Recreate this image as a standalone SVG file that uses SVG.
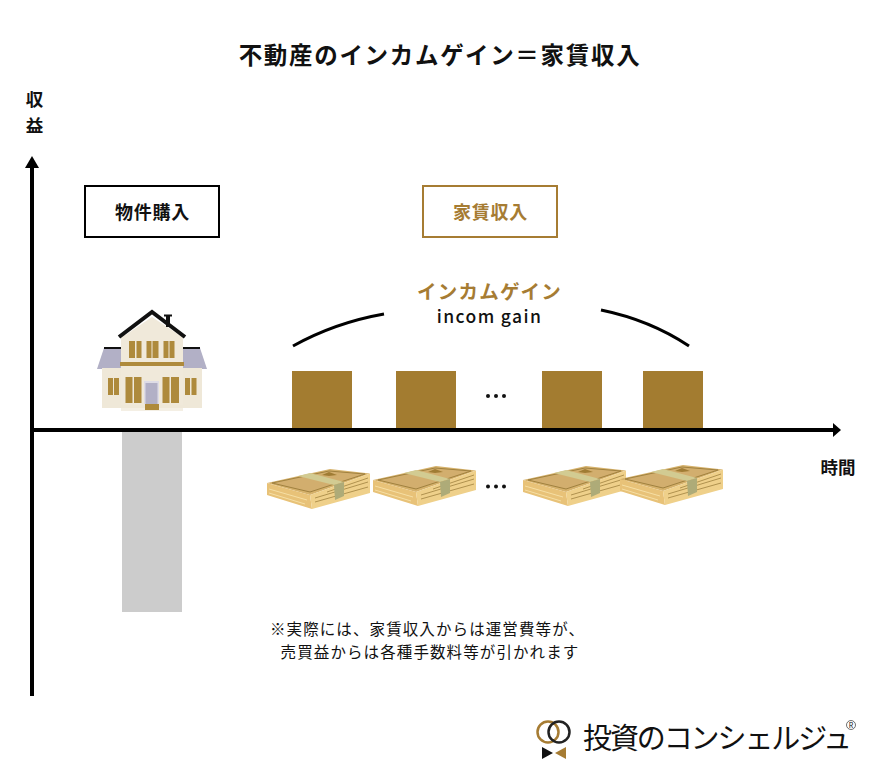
<svg xmlns="http://www.w3.org/2000/svg" xmlns:xlink="http://www.w3.org/1999/xlink" width="880" height="784" viewBox="0 0 880 784">
<style>
text{font-family:"Noto Sans CJK JP","Noto Sans",sans-serif;text-anchor:middle;fill:#111}
.b{font-weight:700}
.m{font-weight:500}
.gold{fill:#a67c33}
.box{fill:#fff;stroke-width:2}
.bar{fill:#a37c30}
.win{fill:#ae8a3c}
.axis{stroke:#000;stroke-width:4;fill:none}
.arc{stroke:#000;stroke-width:3;fill:none}
</style>
<defs>
<g id="money">
<polygon points="0,14 63,0 103,4.500 43,26" fill="#d6b26c"/>
<polygon points="0,14 43,26 45,40 0,26" fill="#e8c278"/>
<polygon points="43,26 103,4.500 103,24 45,40" fill="#efd08a"/>
<polygon points="5,14 62,2 98,5 43,23" fill="#d2ae6e" stroke="#a0813f" stroke-width="1"/>
<path d="M2,20 L40,31 M2,24 L38,35" stroke="#f6dfa4" stroke-width="1" fill="none"/>
<path d="M48,33 L101,18 M48,29 L101,13 M60,23 L101,9" stroke="#a0813f" stroke-width="0.800" fill="none"/>
<polygon points="55,6 62,3 70,6 62,7" fill="#a07c34"/>
<polygon points="31,7 43,4 77,13 67,16" fill="#d2cb92"/>
<polygon points="67,16 77,13 77,27 68,31" fill="#aeab78"/>
</g>
</defs>
<rect width="880" height="784" fill="#fff"/>
<text id="title" class="b" x="440" y="64" font-size="23.500" letter-spacing="1.700">不動産のインカムゲイン＝家賃収入</text>
<g id="connectors">
<path class="axis" d="M32,166V696"/>
<polygon points="32,156 25,168 39,168" fill="#000"/>
<path class="axis" d="M32,430H834"/>
<polygon points="841,430 833,423 833,437" fill="#000"/>
<path class="arc" d="M293,346C320,331 350,320 384,314"/>
<path class="arc" d="M601,310C635,317 665,330 689,346"/>
</g>
<g id="label-y" class="b"><text x="34.500" y="105.500" font-size="17.500">収</text><text x="34.500" y="131.500" font-size="17.500">益</text></g>
<text id="label-x" class="b" x="838" y="473.500" font-size="17.500">時間</text>
<g id="node-buy"><rect class="box" x="85" y="186" width="134" height="51" stroke="#000"/><text class="b" x="152.500" y="219" font-size="18" letter-spacing="0.700">物件購入</text></g>
<g id="node-rent"><rect class="box" x="423" y="186" width="134" height="51" stroke="#a67c33"/><text class="b gold" x="490.500" y="219" font-size="18" letter-spacing="0.700">家賃収入</text></g>
<g id="node-income">
<text class="b gold" x="489.500" y="298.500" font-size="19.500" letter-spacing="1.300">インカムゲイン</text>
<text class="m" x="489.500" y="323" font-size="17.500" letter-spacing="1.400">incom gain</text>
</g>
<g id="house">
<polygon points="104,348 121,348 121,369 97,369" fill="#b2b0c6"/>
<polygon points="183,348 200,348 207,369 183,369" fill="#b2b0c6"/>
<path d="M104,348H121M183,348H200" stroke="#111" stroke-width="2"/>
<rect x="102" y="368" width="100" height="40" fill="#efe8d8"/>
<rect x="121" y="335" width="62" height="70" fill="#f0e9da"/>
<polygon points="152,317 121,338 184,338" fill="#f0e9da"/>
<rect x="121" y="408" width="62" height="3" fill="#f4efe4"/>
<rect x="164" y="314.500" width="8" height="2" fill="#111"/>
<rect x="166" y="316" width="4" height="11" fill="#111"/>
<path d="M119,337L152,312L185,337" fill="none" stroke="#111" stroke-width="4"/>
<g class="win">
<rect x="129" y="341" width="6" height="17"/><rect x="136.500" y="341" width="5" height="17"/>
<rect x="146.500" y="341" width="5" height="17"/><rect x="152.500" y="341" width="6" height="17"/>
<rect x="163.500" y="341" width="5" height="17"/><rect x="169.500" y="341" width="5" height="17"/>
<rect x="120" y="362" width="64" height="4"/>
<rect x="108" y="378" width="5" height="17"/><rect x="114" y="378" width="5" height="17"/>
<rect x="125.500" y="377" width="7" height="26"/><rect x="134" y="377" width="7.500" height="26"/>
<rect x="162.500" y="377" width="7" height="26"/><rect x="171" y="377" width="8" height="26"/>
<rect x="185" y="378" width="5" height="17"/><rect x="191.500" y="378" width="5" height="17"/>
<rect x="145" y="404" width="14" height="6"/>
</g>
<rect x="144" y="381" width="15" height="23" fill="#dedce6"/>
<rect x="145.500" y="383" width="12" height="21" fill="#b2b0c6"/>
</g>
<rect id="bar-purchase" x="122" y="432" width="60" height="180" fill="#cccccc"/>
<g id="rent-bars">
<rect class="bar" x="292" y="371" width="60" height="57"/>
<rect class="bar" x="396" y="371" width="60" height="57"/>
<rect class="bar" x="542" y="371" width="60" height="57"/>
<rect class="bar" x="643" y="371" width="60" height="57"/>
</g>
<g id="dots" fill="#111">
<circle cx="488" cy="396" r="2"/><circle cx="496" cy="396" r="2"/><circle cx="504" cy="396" r="2"/>
<circle cx="488" cy="486.500" r="2"/><circle cx="496" cy="486.500" r="2"/><circle cx="504" cy="486.500" r="2"/>
</g>
<g id="money-stacks">
<use href="#money" x="267" y="469"/>
<use href="#money" x="373" y="466"/>
<use href="#money" x="523" y="466"/>
<use href="#money" x="620" y="465"/>
</g>
<g id="note">
<text x="427.500" y="634.500" font-size="15.500" letter-spacing="1.100">※実際には、家賃収入からは運営費等が、</text>
<text x="430" y="658" font-size="15.500" letter-spacing="1.100">売買益からは各種手数料等が引かれます</text>
</g>
<g id="logo">
<circle cx="548" cy="732" r="10.500" fill="none" stroke="#a67c33" stroke-width="2.500"/>
<circle cx="559" cy="732" r="10.500" fill="none" stroke="#222" stroke-width="2.500"/>
<polygon points="542,747 553,753 542,759" fill="#111"/>
<polygon points="566,747 555,753 566,759" fill="#a67c33"/>
<text x="716.500" y="749" font-size="29" font-weight="400" letter-spacing="-2.100" fill="#222">投資のコンシェルジュ</text>
<circle cx="851" cy="725" r="4.500" fill="none" stroke="#333" stroke-width="0.700"/>
<text x="851" y="727.500" font-size="7">R</text>
</g>
</svg>
